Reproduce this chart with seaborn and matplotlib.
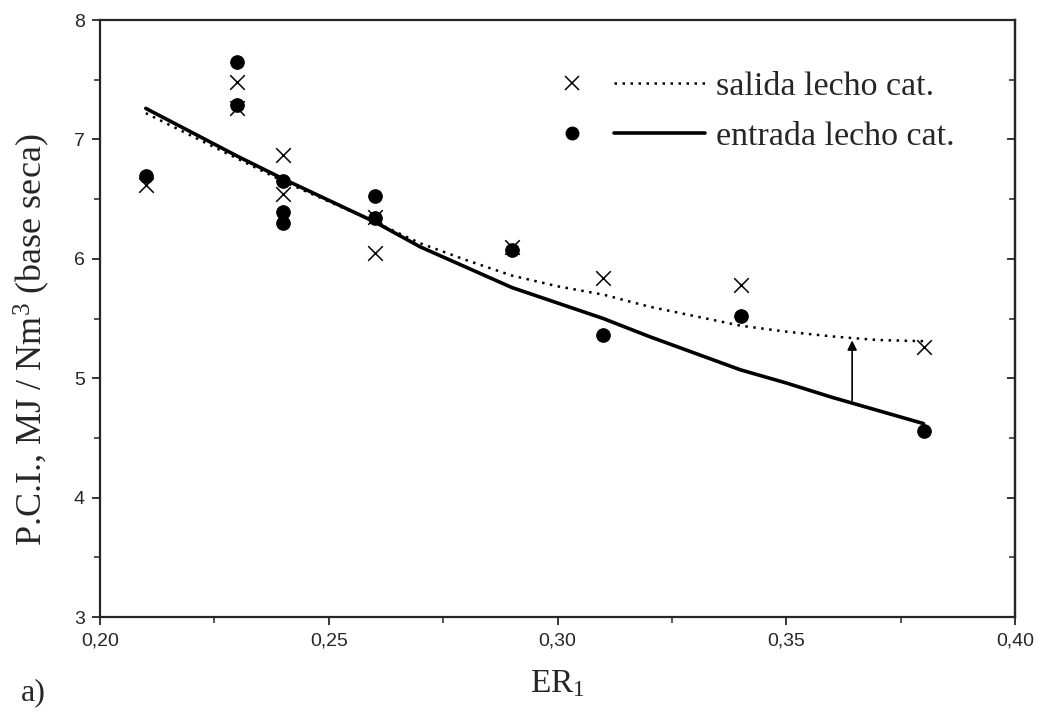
import numpy as np
import pandas as pd
import matplotlib
matplotlib.use('Agg')
import matplotlib.pyplot as plt
import seaborn as sns
from matplotlib.lines import Line2D
from matplotlib.ticker import FuncFormatter, MultipleLocator

# measured points (ER1 vs P.C.I.)
er_salida = [0.21, 0.23, 0.23, 0.24, 0.24, 0.26, 0.26, 0.29, 0.31, 0.34, 0.38]
pci_salida = [6.62, 7.48, 7.26, 6.87, 6.54, 6.35, 6.05, 6.10, 5.84, 5.78, 5.26]

er_entrada = [0.21, 0.23, 0.23, 0.24, 0.24, 0.24, 0.26, 0.26, 0.29, 0.31, 0.34, 0.38]
pci_entrada = [6.69, 7.65, 7.29, 6.65, 6.39, 6.30, 6.53, 6.34, 6.07, 5.36, 5.52, 4.56]

# fitted curves
er_curve = [0.21, 0.22, 0.23, 0.24, 0.25, 0.26, 0.27, 0.28, 0.29,
            0.30, 0.31, 0.32, 0.33, 0.34, 0.35, 0.36, 0.37, 0.38]
curve_salida = [7.22, 7.03, 6.84, 6.65, 6.48, 6.31, 6.13, 5.99, 5.86,
                5.77, 5.70, 5.60, 5.52, 5.44, 5.39, 5.35, 5.32, 5.31]
curve_entrada = [7.26, 7.06, 6.86, 6.67, 6.49, 6.31, 6.10, 5.93, 5.76,
                 5.63, 5.50, 5.35, 5.21, 5.07, 4.96, 4.84, 4.73, 4.62]

# arrow between the curves
arrow_er = 0.3644
arrow_from = 4.79
arrow_to = 5.34

DOTTED = (0, (1, 2.2))


class MarkerThenLine:
    # origin style legend key: symbol on the left, line sample on the right
    def __init__(self, marker, ms, mew, ls, lw):
        self.marker, self.ms, self.mew, self.ls, self.lw = marker, ms, mew, ls, lw

    def legend_artist(self, legend, orig_handle, fontsize, handlebox):
        x0, y0 = -handlebox.xdescent, -handlebox.ydescent
        w, h = handlebox.width, handlebox.height
        yc = y0 + h / 2
        tr = handlebox.get_transform()
        mk = Line2D([x0 + 0.07 * w], [yc], marker=self.marker, markersize=self.ms,
                    mew=self.mew, color='black', linestyle='none', transform=tr)
        ln = Line2D([x0 + 0.36 * w, x0 + w], [yc, yc], color='black',
                    linestyle=self.ls, linewidth=self.lw, transform=tr)
        handlebox.add_artist(ln)
        handlebox.add_artist(mk)
        return mk


sns.set_style('ticks')
plt.rcParams['font.family'] = ['Liberation Serif', 'DejaVu Serif']
plt.rcParams['mathtext.fontset'] = 'custom'
plt.rcParams['mathtext.rm'] = 'Liberation Serif'
plt.rcParams['mathtext.it'] = 'Liberation Serif:italic'
plt.rcParams['mathtext.default'] = 'rm'

fig = plt.figure(figsize=(10.45, 7.12), dpi=100)
ax = fig.add_axes([0.0957, 0.1334, 0.8756, 0.8385])

df_curve = pd.DataFrame({'er': er_curve, 'salida': curve_salida, 'entrada': curve_entrada})
sns.lineplot(data=df_curve, x='er', y='salida', ax=ax, color='black',
             linewidth=1.8, linestyle=DOTTED)
sns.lineplot(data=df_curve, x='er', y='entrada', ax=ax, color='black', linewidth=2.6)

sns.scatterplot(x=er_salida, y=pci_salida, ax=ax, marker='x', s=110,
                color='black', linewidth=1.1, zorder=3)
sns.scatterplot(x=er_entrada, y=pci_entrada, ax=ax, marker='o', s=95,
                color='black', edgecolor='black', zorder=3)

ax.annotate('', xy=(arrow_er, arrow_to), xytext=(arrow_er, arrow_from),
            arrowprops=dict(arrowstyle='-|>', color='black', lw=1.2, mutation_scale=14))

ax.set_xlim(0.20, 0.40)
ax.set_ylim(3, 8)
ax.xaxis.set_major_locator(MultipleLocator(0.05))
ax.xaxis.set_minor_locator(MultipleLocator(0.025))
ax.yaxis.set_major_locator(MultipleLocator(1))
ax.yaxis.set_minor_locator(MultipleLocator(0.5))
ax.xaxis.set_major_formatter(FuncFormatter(lambda v, p: f'{v:.2f}'.replace('.', ',')))
ax.yaxis.set_major_formatter(FuncFormatter(lambda v, p: f'{v:.0f}'))
ax.tick_params(which='major', direction='out', length=6, width=1.3,
               labelsize=14, pad=5)
ax.tick_params(which='minor', direction='out', length=4, width=1.1)
for lab in ax.get_xticklabels() + ax.get_yticklabels():
    lab.set_family('Liberation Sans')
for sp in ax.spines.values():
    sp.set_linewidth(1.6)
    sp.set_visible(True)

sec = ax.secondary_yaxis('right')
sec.yaxis.set_major_locator(MultipleLocator(1))
sec.yaxis.set_minor_locator(MultipleLocator(0.5))
sec.tick_params(which='major', direction='in', length=6, width=1.3, labelright=False)
sec.tick_params(which='minor', direction='in', length=4, width=1.1)
sec.spines['right'].set_linewidth(1.6)

ax.set_xlabel('ER$_1$', fontsize=24, labelpad=14)
ax.set_ylabel('P.C.I., MJ / Nm$^3$ (base seca)', fontsize=26)
ax.yaxis.set_label_coords(-0.0525, 0.464)
fig.text(0.02, 0.027, 'a)', fontsize=23, ha='left', va='center')

h_sal = Line2D([], [], color='black')
h_ent = Line2D([], [], color='black')
ax.legend([h_sal, h_ent], ['salida lecho cat.', 'entrada lecho cat.'],
          handler_map={h_sal: MarkerThenLine('x', 10, 1.1, DOTTED, 1.8),
                       h_ent: MarkerThenLine('o', 9, 1.0, '-', 2.6)},
          loc='upper right', bbox_to_anchor=(0.967, 0.965), frameon=False,
          fontsize=24.5, handlelength=4.2, handletextpad=0.3, labelspacing=0.55)

plt.savefig('out.png', dpi=100)
